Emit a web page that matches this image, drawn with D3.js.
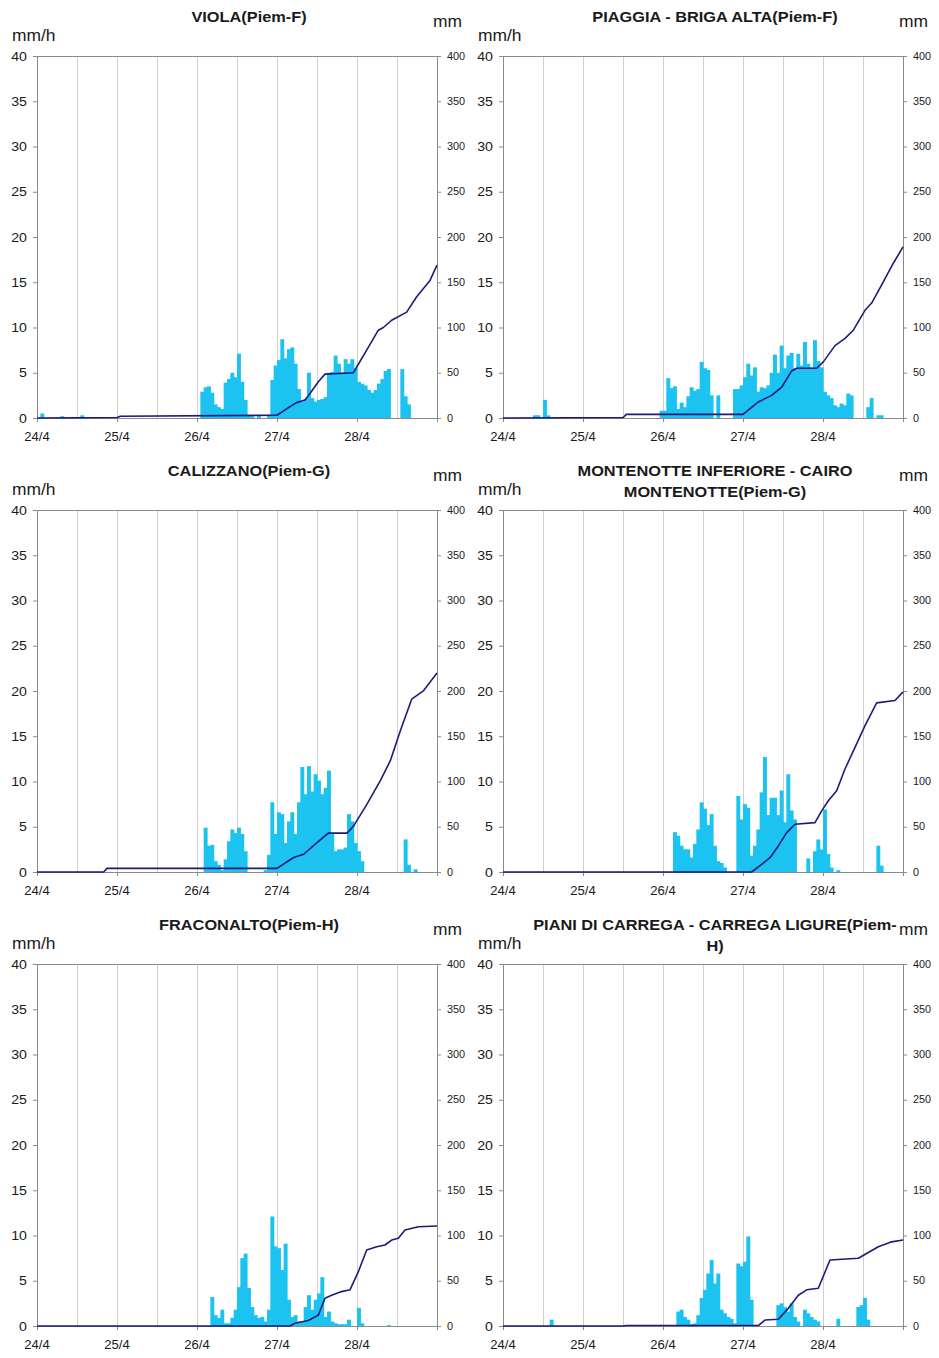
<!DOCTYPE html>
<html>
<head>
<meta charset="utf-8">
<script src="https://cdn.jsdelivr.net/npm/d3@7"></script>
<style>
  body { margin: 0; background: #fff; }
  svg { display: block; }
  text { font-family: "Liberation Sans", Arial, sans-serif; fill: #1a1a1a; }
</style>
</head>
<body>
<svg id="chart" width="939" height="1358"></svg>
<script>
// ---- axis labels ----
const dayLabels = ["24/4", "25/4", "26/4", "27/4", "28/4"];
const dayStartHours = [0, 24, 48, 72, 96];
const rateTicks = [0, 5, 10, 15, 20, 25, 30, 35, 40];
const totalTicks = [0, 50, 100, 150, 200, 250, 300, 350, 400];

// ---- hourly rainfall intensity (mm/h), one row per day, 24/4 00:00 -> 28/4 23:00 ----
const violaRain = [
  0,0.5,0,0,0,0,0,0.2,0,0,0,0,0,0.3,0,0,0,0,0,0,0,0,0,0,
  0,0,0,0,0,0,0,0,0,0,0,0,0,0,0,0,0,0,0,0,0,0,0,0,
  0,2.9,3.4,3.5,2.8,1.5,1.2,1.0,3.9,4.3,5.0,4.5,7.1,4.0,2.0,0.3,0.2,0,0.2,0,0,0.3,4.2,5.8,
  6.4,8.7,6.6,7.6,7.8,6.0,3.2,1.8,2.1,5.0,2.2,1.8,2.0,2.1,2.3,5.0,5.1,6.9,6.0,5.0,6.5,6.0,6.5,5.5,
  4.0,3.8,3.6,3.1,2.8,3.1,3.8,4.3,5.2,5.4,0,0,0,5.4,2.4,1.5,0,0,0,0,0,0,0,0
];
const piaggiaRain = [
  0,0,0,0,0,0,0,0,0,0.3,0.3,0,2.0,0.3,0,0,0,0.1,0.1,0.1,0.1,0.1,0,0,
  0,0,0,0,0,0,0,0,0,0,0,0,0,0,0,0,0,0,0,0,0,0,0,0.8,
  0.8,4.4,3.3,3.5,1.0,1.7,1.2,2.4,3.4,3.0,3.2,6.2,5.5,5.3,2.5,0,2.5,0,0,0,0,3.2,3.2,3.6,
  4.5,6.0,4.7,5.6,2.9,3.4,3.3,3.6,5.0,7.0,5.0,8.0,5.5,6.9,7.2,5.5,7.1,5.8,8.4,6.0,5.6,8.6,6.3,5.6,
  2.9,2.5,2.2,1.4,1.2,1.6,1.4,2.7,2.5,0,0,0,0,1.2,2.2,0,0.3,0.3,0,0,0,0,0,0
];
const calizzanoRain = [
  0,0,0,0,0,0,0,0,0,0,0,0,0,0,0,0,0,0,0,0,0,0,0,0,
  0,0,0,0,0,0,0,0,0,0,0,0,0,0,0,0,0,0,0,0,0,0,0,0,
  0,0,4.9,2.9,3.0,1.2,0.8,0.2,1.4,3.4,4.7,4.3,4.9,4.2,2.3,0,0,0,0,0,0.2,1.9,7.7,4.2,
  6.6,6.4,3.2,5.6,6.6,4.2,7.7,11.6,8.6,11.7,8.9,10.8,10.1,8.6,9.3,11.2,4.3,2.3,2.5,2.5,2.7,6.4,5.6,3.2,
  2.3,1.2,0,0,0,0,0,0,0,0,0,0,0,0,3.6,0.8,0,0.3,0,0,0,0,0,0
];
const montenotteRain = [
  0,0,0,0,0,0,0,0,0,0,0,0,0,0,0,0,0,0,0,0,0,0,0,0,
  0,0,0,0,0,0,0,0,0,0,0,0,0,0,0,0,0,0,0,0,0,0,0,0,
  0,0,0,4.4,4.0,2.9,2.5,2.5,1.6,3.1,4.7,7.7,7.0,5.2,6.4,2.9,1.2,1.0,0.5,0,0,0,8.4,5.8,
  7.5,7.1,1.8,2.9,4.7,8.8,12.7,6.3,8.2,8.2,6.3,9.0,5.5,10.8,6.8,5.8,0,0,0,1.5,0,2.3,3.6,2.5,
  6.9,2.0,0.5,0,0.2,0,0,0,0,0,0,0,0,0,0,0,2.9,0.7,0,0,0,0,0,0
];
const fraconaltoRain = [
  0,0,0,0,0,0,0,0,0,0,0,0,0,0,0,0,0,0,0,0,0,0,0,0,
  0,0,0,0,0,0,0,0,0,0,0,0,0,0,0,0,0,0,0,0,0,0,0,0,
  0,0,0,0,3.2,1.2,0.9,1.8,0.3,0.3,0.9,1.8,4.3,7.5,8.0,4.2,2.1,1.2,0.9,1.0,0.5,1.8,12.1,8.8,
  8.6,6.2,9.1,2.9,1.0,1.2,0.5,0.5,2.1,3.4,1.8,2.9,3.6,5.4,1.0,1.6,0.5,0.3,0.2,0.2,0.2,0.7,0,0,
  2.0,0.3,0,0,0,0,0,0,0,0.1,0,0,0,0,0,0,0,0,0,0,0,0,0,0
];
const carregaRain = [
  0,0,0,0,0,0,0,0,0,0,0,0,0,0,0.7,0,0,0,0,0,0,0,0,0,
  0,0,0,0,0,0,0,0,0,0,0,0,0,0,0,0,0,0,0,0,0,0,0,0,
  0,0,0,0,1.6,1.8,1.0,0.7,0.2,0.3,1.2,3.1,4.0,5.8,7.3,4.7,5.8,1.8,1.4,1.0,0.8,0.3,6.9,6.6,
  7.1,9.9,2.9,0,0,0,0,0,0,0,2.3,2.5,2.1,1.6,2.5,1.0,0.5,0,1.8,1.4,1.0,0.7,0.5,0,
  0,0,0,0,0.8,0,0,0,0,0,2.1,2.3,3.1,0.7,0,0,0,0,0,0,0,0,0,0
];

// ---- cumulative rainfall (mm): [hour since 24/4 00:00, mm] ----
const violaTotal = [[0,0],[24,0.5],[25,2],[72,3],[75.9,12.5],[77.9,17],[80.4,20],[81.9,27],[84.4,40],[86.4,48.5],[94.9,50],[98.9,75],[102.4,97],[103.9,100],[106.4,108],[110.9,117],[113.9,134],[117.9,152],[120,169]];
const piaggiaTotal = [[0,0],[36,0.5],[37,4],[72,4],[76.6,17.7],[80.6,25],[83.6,34],[86.6,52],[88.1,55],[94.1,55],[96.1,62],[99.6,80],[102.6,88],[105.1,97],[108.6,119],[110.6,127],[113.6,147],[117.1,171],[120,189]];
const calizzanoTotal = [[0,0],[20,0],[21,4],[72,4],[77,16],[80,19.6],[84,32.5],[87.4,43],[93,43],[95,51],[99,75],[103,101],[106,123],[109,156],[112.4,191],[116,200.5],[120,220]];
const montenotteTotal = [[0,0],[74.6,0],[77.6,8.5],[80.1,15.8],[82.6,28.8],[85.1,43.5],[87.6,52.8],[93.6,54.6],[95.6,67.6],[97.6,78.7],[100.1,89.8],[102.6,113.8],[105.6,137.7],[108.6,161.8],[112.1,186.9],[117.6,189.5],[120,199]];
const fraconaltoTotal = [[0,0],[75.9,0],[77.4,3],[81.4,6],[84.4,12],[86.4,30.6],[88.4,34],[91.4,38],[93.9,40],[96.4,60],[98.9,84],[101.9,87.6],[104.4,89.5],[106.4,95],[108.4,97],[110.4,106],[114.4,109.7],[120,110.5]];
const carregaTotal = [[0,0],[36,0],[37,0.5],[76.6,0.5],[78.6,6.6],[82.6,7.4],[85.6,19.5],[88.6,34],[91.1,40],[94.6,41.7],[98.1,73],[106.6,74.8],[112.6,87.6],[116.6,93],[120,95]];

// ---- station names (title lines) ----
const stationTitles = [
  ["VIOLA(Piem-F)"],
  ["PIAGGIA - BRIGA ALTA(Piem-F)"],
  ["CALIZZANO(Piem-G)"],
  ["MONTENOTTE INFERIORE - CAIRO", "MONTENOTTE(Piem-G)"],
  ["FRACONALTO(Piem-H)"],
  ["PIANI DI CARREGA - CARREGA LIGURE(Piem-", "H)"]
];
const stationRain = [violaRain, piaggiaRain, calizzanoRain, montenotteRain, fraconaltoRain, carregaRain];
const stationTotal = [violaTotal, piaggiaTotal, calizzanoTotal, montenotteTotal, fraconaltoTotal, carregaTotal];
const rateUnit = "mm/h";
const totalUnit = "mm";

// ---- layout ----
const colLeft = [37, 503];
const rowTop = [56, 510, 964];
const plotW = 400, plotH = 362;
const HOURS = 120;
const STRETCH = 1.09;   // slightly wide lettering

const BAR = "#1cc3f1";
const LINE = "#1c1c78";
const GRID = "#cfcfcf";
const AXIS = "#8a8a8a";

const svg = d3.select("#chart");
svg.append("rect").attr("width", 939).attr("height", 1358).attr("fill", "#fff");

function label(g, x, y, str, size, anchor, weight) {
  return g.append("text")
    .attr("transform", `translate(${x},${y}) scale(${STRETCH},1)`)
    .attr("text-anchor", anchor || "start")
    .attr("font-size", size)
    .attr("font-weight", weight || "normal")
    .text(str);
}

stationTitles.forEach((titleLines, k) => {
  const left = colLeft[k % 2];
  const top = rowTop[Math.floor(k / 2)];
  const right = left + plotW, bottom = top + plotH;
  const g = svg.append("g");

  const x = d3.scaleLinear().domain([0, HOURS]).range([left, right]);
  const y = d3.scaleLinear().domain([0, 40]).range([bottom, top]);
  const y2 = d3.scaleLinear().domain([0, 400]).range([bottom, top]);

  // vertical grid every 12 hours
  g.append("g").selectAll("line")
    .data(d3.range(12, HOURS, 12))
    .join("line")
    .attr("x1", d => x(d) + 0.5).attr("x2", d => x(d) + 0.5)
    .attr("y1", top).attr("y2", bottom)
    .attr("stroke", GRID).attr("stroke-width", 1);

  // top border
  g.append("line")
    .attr("x1", left).attr("x2", right)
    .attr("y1", top + 0.5).attr("y2", top + 0.5)
    .attr("stroke", AXIS);

  // hourly bars (adjacent hours touch, so each bar overlaps its neighbour slightly)
  const rain = stationRain[k];
  g.append("g").selectAll("rect")
    .data(rain.map((v, i) => ({ i, v })).filter(d => d.v > 0))
    .join("rect")
    .attr("x", d => x(d.i))
    .attr("width", d => x(d.i + 1) - x(d.i) + 0.6)
    .attr("y", d => y(d.v))
    .attr("height", d => bottom - y(d.v))
    .attr("fill", BAR);

  // axes
  const axL = g.append("g").attr("transform", `translate(${left},0)`)
    .call(d3.axisLeft(y).tickValues(rateTicks).tickSize(4).tickSizeOuter(0));
  const axR = g.append("g").attr("transform", `translate(${right},0)`)
    .call(d3.axisRight(y2).tickValues(totalTicks).tickSize(4).tickSizeOuter(0));
  const axB = g.append("g").attr("transform", `translate(0,${bottom})`)
    .call(d3.axisBottom(x).tickValues(dayStartHours.concat([HOURS])).tickSize(4).tickSizeOuter(0).tickFormat(() => ""));
  [axL, axR, axB].forEach(a => {
    a.selectAll("path").attr("stroke", AXIS);
    a.selectAll("line").attr("stroke", AXIS);
    a.selectAll("text").remove();
  });

  // tick labels
  rateTicks.forEach(t => label(g, left - 10, y(t) + 4.5, String(t), 13, "end"));
  totalTicks.forEach(t => label(g, right + 10, y2(t) + 3.5, String(t), 10, "start"));
  dayStartHours.forEach((h, i) => label(g, x(h), bottom + 23, dayLabels[i], 12, "middle"));

  // cumulative line
  g.append("path")
    .datum(stationTotal[k])
    .attr("fill", "none")
    .attr("stroke", LINE)
    .attr("stroke-width", 1.6)
    .attr("stroke-linejoin", "round")
    .attr("d", d3.line().x(d => x(d[0])).y(d => y2(d[1])));

  // units and titles
  label(g, left - 25, top - 15, rateUnit, 16, "start");
  label(g, right - 4, top - 29, totalUnit, 16, "start");
  titleLines.forEach((t, j) => label(g, left + 212, top - 34 + j * 21, t, 15, "middle", "bold"));
});
</script>
</body>
</html>
